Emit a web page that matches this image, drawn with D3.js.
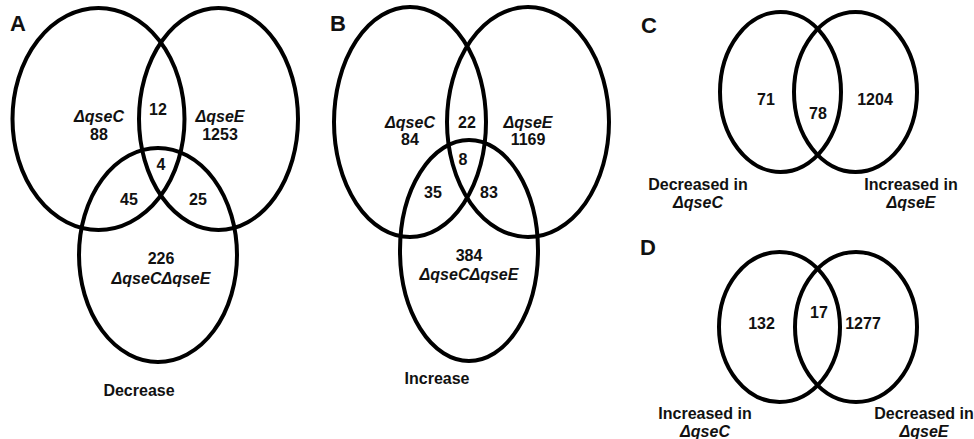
<!DOCTYPE html>
<html>
<head>
<meta charset="utf-8">
<script src="https://cdn.jsdelivr.net/npm/d3@7"></script>
<style>
  body { margin: 0; background: #fff; }
  text { font-family: "Liberation Sans", Arial, Helvetica, sans-serif; font-weight: bold; fill: #111; }
</style>
</head>
<body>
<div id="dataviz"></div>
<script>
// ---- data ----
var panelLetters = ["A", "B", "C", "D"];
var setNames = ["ΔqseC", "ΔqseE", "ΔqseCΔqseE"];
// order: C only, E only, CE only, C&E, C&CE, E&CE, all three
var decreaseCounts = [88, 1253, 226, 12, 45, 25, 4];
var increaseCounts = [84, 1169, 384, 22, 35, 83, 8];
var threeWayTitles = ["Decrease", "Increase"];
// order: left only, overlap, right only
var compareCCounts = [71, 78, 1204];
var compareDCounts = [132, 17, 1277];
var compareCLabels = [["Decreased in", "ΔqseC"], ["Increased in", "ΔqseE"]];
var compareDLabels = [["Increased in", "ΔqseC"], ["Decreased in", "ΔqseE"]];

var width = 974, height = 439;

var svg = d3.select("#dataviz")
  .append("svg")
    .attr("width", width)
    .attr("height", height);

// layout of each panel (pixel geometry)
var threeLayouts = [
  { letter: [18, 23],
    ellipses: [[98.5, 119, 86, 111], [218.5, 119, 79.5, 111], [158, 255, 79, 107]],
    names: [[99, 116], [220, 116], [161, 278]],
    counts: [[99, 134], [220, 134], [161, 258], [158, 109], [129, 199], [198, 199], [161, 164]],
    title: [139, 390] },
  { letter: [338, 23],
    ellipses: [[410, 122, 76, 115], [528, 122, 81, 115], [469, 250.5, 69, 110.5]],
    names: [[410, 122], [528, 122], [469, 274]],
    counts: [[410, 139], [528, 139], [469, 255], [467, 122], [433, 192], [489, 192], [463, 159]],
    title: [437, 378] }
];
var twoLayouts = [
  { letter: [649, 25],
    ellipses: [[780.5, 92, 60.5, 80], [855.5, 92, 61.5, 80]],
    counts: [[766, 99], [818, 113], [875, 99]],
    labels: [[698, 184], [911, 184]] },
  { letter: [648, 247.5],
    ellipses: [[779.5, 327, 60.5, 75], [856, 327, 61, 75]],
    counts: [[761.5, 323.5], [819, 312.5], [863, 323.5]],
    labels: [[705, 413], [924, 413]] }
];

function drawEllipses(g, list) {
  g.selectAll("ellipse.set")
    .data(list)
    .join("ellipse")
      .attr("class", "set")
      .attr("cx", function(d) { return d[0]; })
      .attr("cy", function(d) { return d[1]; })
      .attr("rx", function(d) { return d[2]; })
      .attr("ry", function(d) { return d[3]; })
      .style("fill", "none")
      .style("stroke", "#000")
      .style("stroke-width", 4);
}

function drawLetter(g, letter, pos) {
  g.append("text")
    .attr("x", pos[0])
    .attr("y", pos[1])
    .attr("dy", "0.36em")
    .attr("text-anchor", "middle")
    .style("font-size", "22px")
    .text(letter);
}

function drawCounts(g, counts, positions) {
  g.selectAll("text.count")
    .data(counts)
    .join("text")
      .attr("class", "count")
      .attr("x", function(d, i) { return positions[i][0]; })
      .attr("y", function(d, i) { return positions[i][1]; })
      .attr("dy", "0.36em")
      .attr("text-anchor", "middle")
      .style("font-size", "16px")
      .text(function(d) { return d; });
}

// panels A and B
[decreaseCounts, increaseCounts].forEach(function(counts, p) {
  var lay = threeLayouts[p];
  var g = svg.append("g");
  drawEllipses(g, lay.ellipses);
  drawLetter(g, panelLetters[p], lay.letter);
  drawCounts(g, counts, lay.counts);
  g.selectAll("text.name")
    .data(setNames)
    .join("text")
      .attr("class", "name")
      .attr("x", function(d, i) { return lay.names[i][0]; })
      .attr("y", function(d, i) { return lay.names[i][1]; })
      .attr("dy", "0.36em")
      .attr("text-anchor", "middle")
      .style("font-size", "16px")
      .style("font-style", "italic")
      .text(function(d) { return d; });
  g.append("text")
    .attr("x", lay.title[0])
    .attr("y", lay.title[1])
    .attr("dy", "0.36em")
    .attr("text-anchor", "middle")
    .style("font-size", "16px")
    .text(threeWayTitles[p]);
});

// panels C and D
[[compareCCounts, compareCLabels], [compareDCounts, compareDLabels]].forEach(function(item, p) {
  var lay = twoLayouts[p];
  var g = svg.append("g");
  drawEllipses(g, lay.ellipses);
  drawLetter(g, panelLetters[p + 2], lay.letter);
  drawCounts(g, item[0], lay.counts);
  item[1].forEach(function(lbl, i) {
    var t = g.append("text")
      .attr("x", lay.labels[i][0])
      .attr("y", lay.labels[i][1])
      .attr("text-anchor", "middle")
      .style("font-size", "16px");
    t.append("tspan")
      .attr("x", lay.labels[i][0])
      .attr("dy", "0.36em")
      .text(lbl[0]);
    t.append("tspan")
      .attr("x", lay.labels[i][0])
      .attr("dy", "1.17em")
      .style("font-style", "italic")
      .text(lbl[1]);
  });
});
</script>
</body>
</html>
